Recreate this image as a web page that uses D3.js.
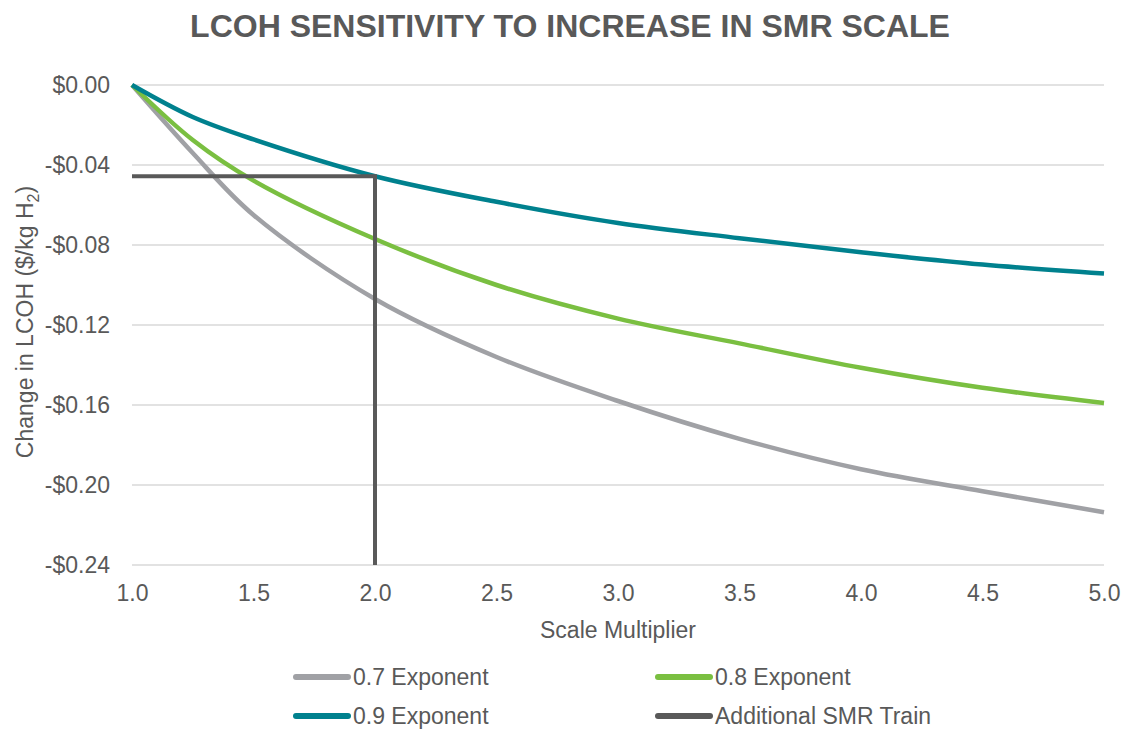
<!DOCTYPE html>
<html>
<head>
<meta charset="utf-8">
<script src="https://cdn.jsdelivr.net/npm/d3@7"></script>
<style>
  body { margin: 0; background: #fff; }
  text { font-family: "Liberation Sans", Arial, sans-serif; fill: #595959; }
</style>
</head>
<body>
<script>
// Scale multiplier values
const scales = [1.0, 1.25, 1.5, 2.0, 2.5, 3.0, 3.5, 4.0, 4.5, 5.0];

// Change in LCOH ($/kg H2) for each exponent
const exp07 = [0, -0.034, -0.065, -0.107, -0.136, -0.158, -0.1769, -0.1921, -0.2031, -0.2136];
const exp08 = [0, -0.0275, -0.0478, -0.077, -0.100, -0.1168, -0.1292, -0.1414, -0.1514, -0.159];
const exp09 = [0, -0.016, -0.0272, -0.0456, -0.0584, -0.069, -0.0766, -0.0836, -0.0898, -0.0943];

// Additional SMR train marker (scale 2x)
const trainX = [1.0, 2.0, 2.0];
const trainY = [-0.0456, -0.0456, -0.24];

const xTicks = [1.0, 1.5, 2.0, 2.5, 3.0, 3.5, 4.0, 4.5, 5.0];
const yTicks = [0, -0.04, -0.08, -0.12, -0.16, -0.20, -0.24];

const seriesNames = ["0.7 Exponent", "0.8 Exponent", "0.9 Exponent", "Additional SMR Train"];
const seriesColors = ["#a0a1a5", "#7abf41", "#00818e", "#595959"];

const W = 1123, H = 731;
const margin = { top: 85, right: 19, bottom: 166, left: 132 },
      width = W - margin.left - margin.right,
      height = H - margin.top - margin.bottom;

const svg = d3.select("body").append("svg")
    .attr("width", W)
    .attr("height", H);

// Title
svg.append("text")
    .attr("x", 570)
    .attr("y", 37)
    .attr("text-anchor", "middle")
    .style("font-size", "32px")
    .style("font-weight", "bold")
    .text("LCOH SENSITIVITY TO INCREASE IN SMR SCALE");

const g = svg.append("g")
    .attr("transform", "translate(" + margin.left + "," + margin.top + ")");

const x = d3.scaleLinear().domain([1, 5]).range([0, width]);
const y = d3.scaleLinear().domain([0, -0.24]).range([0, height]);

// Gridlines
g.selectAll(".grid")
    .data(yTicks)
    .enter().append("line")
    .attr("class", "grid")
    .attr("x1", 0)
    .attr("x2", width)
    .attr("y1", d => y(d))
    .attr("y2", d => y(d))
    .attr("stroke", "#d9d9d9")
    .attr("stroke-width", 1.5);

// Y axis labels
const yAxis = g.append("g")
    .call(d3.axisLeft(y).tickValues(yTicks).tickSize(0).tickPadding(22)
        .tickFormat(d => (d < 0 ? "-$" : "$") + Math.abs(d).toFixed(2)));
yAxis.select(".domain").remove();
yAxis.selectAll("text").style("font-size", "23px").attr("fill", "#595959");

// X axis labels
const xAxis = g.append("g")
    .attr("transform", "translate(0," + height + ")")
    .call(d3.axisBottom(x).tickValues(xTicks).tickSize(0).tickPadding(20)
        .tickFormat(d3.format(".1f")));
xAxis.select(".domain").remove();
xAxis.selectAll("text").style("font-size", "23px").attr("fill", "#595959");

// Axis titles
svg.append("text")
    .attr("x", margin.left + width / 2)
    .attr("y", 638)
    .attr("text-anchor", "middle")
    .style("font-size", "23px")
    .text("Scale Multiplier");

const yTitle = svg.append("text")
    .attr("transform", "translate(33,322) rotate(-90)")
    .attr("text-anchor", "middle")
    .style("font-size", "23px");
yTitle.append("tspan").text("Change in LCOH ($/kg H");
yTitle.append("tspan").attr("dy", 6).style("font-size", "16px").text("2");
yTitle.append("tspan").attr("dy", -6).text(")");

// Series lines
const line = d3.line()
    .x(d => x(d[0]))
    .y(d => y(d[1]))
    .curve(d3.curveCatmullRom.alpha(0.5));

const series = [exp07, exp08, exp09];
series.forEach(function(vals, i) {
    g.append("path")
        .datum(scales.map((s, j) => [s, vals[j]]))
        .attr("fill", "none")
        .attr("stroke", seriesColors[i])
        .attr("stroke-width", 4.5)
        .attr("d", line);
});

// Additional SMR train
g.append("path")
    .datum(trainX.map((v, j) => [v, trainY[j]]))
    .attr("fill", "none")
    .attr("stroke", seriesColors[3])
    .attr("stroke-width", 4)
    .attr("d", d3.line().x(d => x(d[0])).y(d => y(d[1])));

// Legend
const legendPos = [[293, 677], [655, 677], [293, 716], [655, 716]];
const legend = svg.selectAll(".legend")
    .data(seriesNames)
    .enter().append("g")
    .attr("class", "legend")
    .attr("transform", (d, i) => "translate(" + legendPos[i][0] + "," + legendPos[i][1] + ")");

legend.append("line")
    .attr("x1", 3)
    .attr("x2", 55)
    .attr("y1", 0)
    .attr("y2", 0)
    .attr("stroke", (d, i) => seriesColors[i])
    .attr("stroke-width", 6)
    .attr("stroke-linecap", "round");

legend.append("text")
    .attr("x", 60)
    .attr("y", 8)
    .style("font-size", "23px")
    .text(d => d);
</script>
</body>
</html>
